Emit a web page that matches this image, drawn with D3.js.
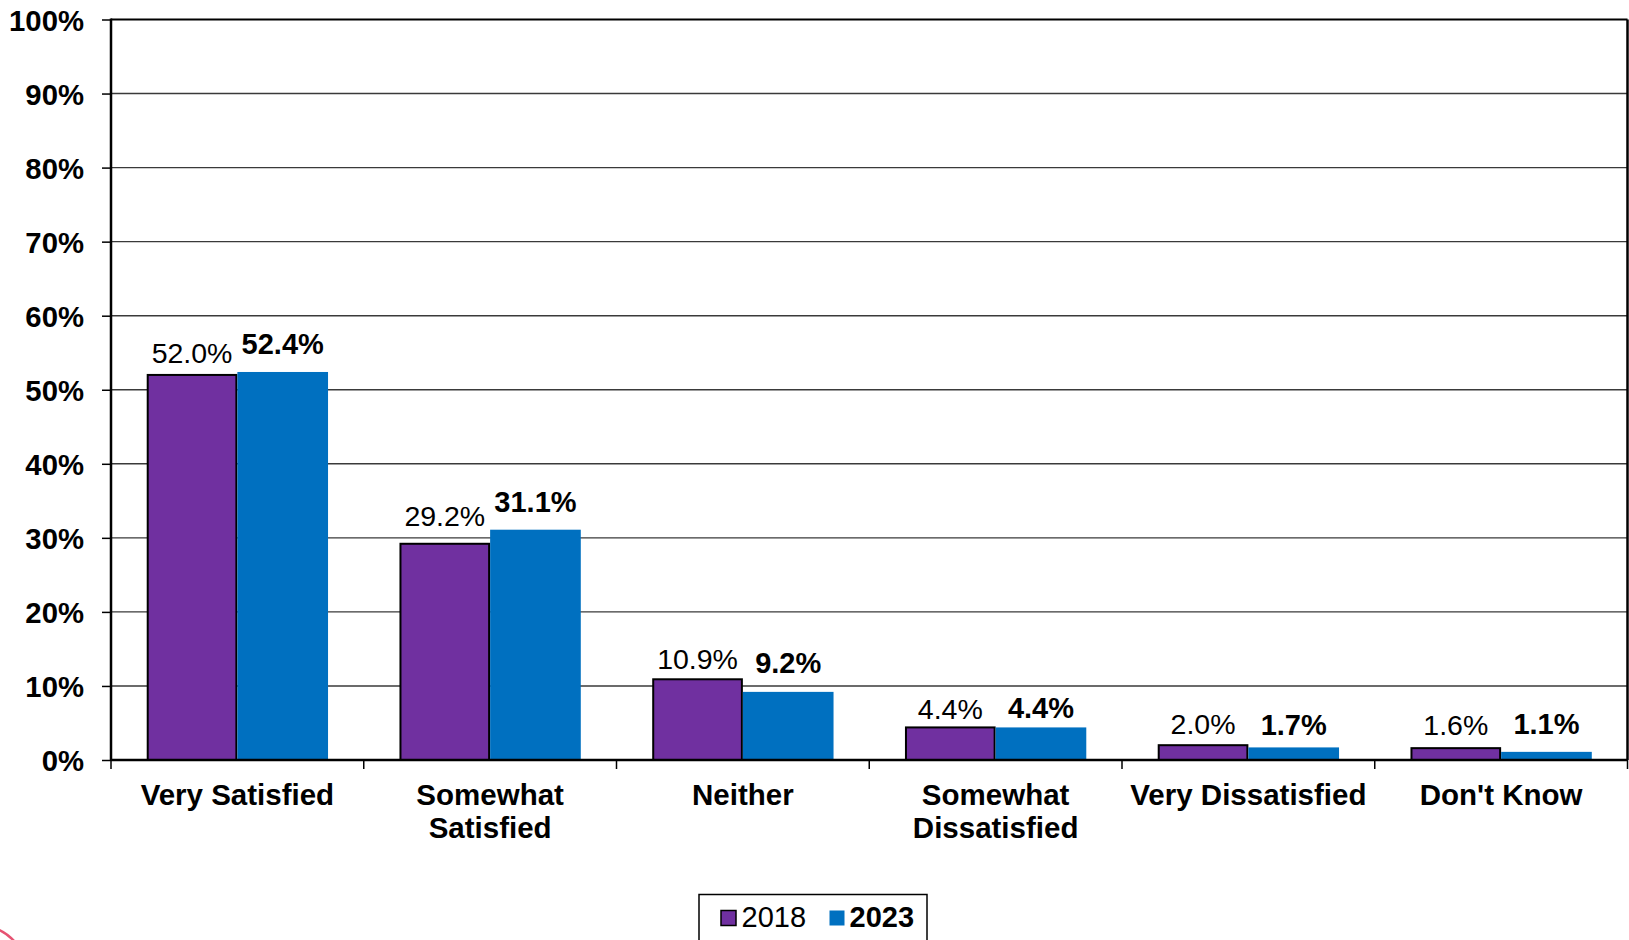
<!DOCTYPE html>
<html>
<head>
<meta charset="utf-8">
<script src="https://cdn.jsdelivr.net/npm/d3@7"></script>
<style>
  html, body { margin: 0; padding: 0; background: #fff; }
  svg { display: block; font-family: "Liberation Sans", Arial, sans-serif; }
</style>
</head>
<body>
<svg id="chart" width="1629" height="940"></svg>
<script>
const categories = ["Very Satisfied", "Somewhat Satisfied", "Neither", "Somewhat Dissatisfied", "Very Dissatisfied", "Don't Know"];
const categoryLines = [["Very Satisfied"], ["Somewhat", "Satisfied"], ["Neither"], ["Somewhat", "Dissatisfied"], ["Very Dissatisfied"], ["Don't Know"]];
const series = ["2018", "2023"];
const values2018 = [52.0, 29.2, 10.9, 4.4, 2.0, 1.6];
const values2023 = [52.4, 31.1, 9.2, 4.4, 1.7, 1.1];
const yTicks = [0, 10, 20, 30, 40, 50, 60, 70, 80, 90, 100];
const colors = { "2018": "#7030A0", "2023": "#0070C0" };
// gap (px) between bar top and its value label, as placed in the original
const labelGap2018 = [12, 17.5, 10.5, 8.5, 11, 13];
const labelGap2023 = [18, 17.5, 19, 9.5, 12.5, 18];

(function () {
const svg = d3.select("#chart");
const pLeft = 111, pRight = 1627.5, pTop = 19.5, pBottom = 760;

const y = d3.scaleLinear().domain([0, 100]).range([pBottom, pTop]);
const x0 = d3.scaleBand().domain(categories).range([pLeft, pRight]).padding(0);
const bw = x0.bandwidth();
const gp = bw * 0.1413;
const x1 = d3.scaleBand().domain(series).range([gp, bw - gp]).padding(0);

// gridlines
svg.append("g").selectAll("line").data(yTicks.filter(t => t > 0 && t < 100)).join("line")
  .attr("x1", pLeft).attr("x2", pRight)
  .attr("y1", d => y(d)).attr("y2", d => y(d))
  .attr("stroke", "#3a3a3a").attr("stroke-width", 1.4);

// y axis
const yAxis = d3.axisLeft(y).tickValues(yTicks).tickFormat(d => d + "%").tickSize(9).tickPadding(18);
const gy = svg.append("g").attr("transform", `translate(${pLeft},0)`).call(yAxis);
gy.select(".domain").remove();
gy.selectAll(".tick line").attr("stroke", "#000").attr("stroke-width", 1.5);
gy.selectAll(".tick text").attr("font-size", 29.3).attr("font-weight", "bold").attr("fill", "#000")
  .attr("font-family", "'Liberation Sans', Arial, sans-serif")
  .attr("dy", null).attr("y", 10.5);

// bars
const data = categories.map((c, i) => ({ cat: c, vals: [
  { s: "2018", v: values2018[i], gap: labelGap2018[i] },
  { s: "2023", v: values2023[i], gap: labelGap2023[i] }] }));
const groups = svg.append("g").selectAll("g").data(data).join("g")
  .attr("transform", d => `translate(${x0(d.cat)},0)`);

groups.selectAll("rect").data(d => d.vals).join("rect")
  .attr("x", d => x1(d.s) + (d.s === "2018" ? 1 : 0))
  .attr("width", d => x1.bandwidth() - (d.s === "2018" ? 2 : 0))
  .attr("y", d => y(d.v))
  .attr("height", d => pBottom - y(d.v))
  .attr("fill", d => colors[d.s])
  .attr("stroke", d => d.s === "2018" ? "#000" : "none")
  .attr("stroke-width", 2);

groups.selectAll("text.val").data(d => d.vals).join("text")
  .attr("class", "val")
  .attr("x", d => x1(d.s) + x1.bandwidth() / 2)
  .attr("y", d => y(d.v) - d.gap)
  .attr("text-anchor", "middle")
  .attr("font-size", d => d.s === "2023" ? 29 : 28.5)
  .attr("font-weight", d => d.s === "2023" ? "bold" : "normal")
  .attr("fill", "#000")
  .text(d => d.v.toFixed(1) + "%");

// frame
svg.append("line").attr("x1", pLeft).attr("x2", pRight).attr("y1", pTop).attr("y2", pTop).attr("stroke", "#000").attr("stroke-width", 2);
svg.append("line").attr("x1", pRight).attr("x2", pRight).attr("y1", pTop).attr("y2", pBottom).attr("stroke", "#000").attr("stroke-width", 2.5);
svg.append("line").attr("x1", pLeft).attr("x2", pLeft).attr("y1", pTop - 1).attr("y2", pBottom + 1).attr("stroke", "#000").attr("stroke-width", 2.5);
svg.append("line").attr("x1", pLeft).attr("x2", pRight).attr("y1", pBottom).attr("y2", pBottom).attr("stroke", "#000").attr("stroke-width", 2.5);

// x ticks at band boundaries
const bounds = categories.map(c => x0(c)).concat([pRight]);
svg.append("g").selectAll("line").data(bounds).join("line")
  .attr("x1", d => d).attr("x2", d => d)
  .attr("y1", pBottom).attr("y2", pBottom + 9)
  .attr("stroke", "#000").attr("stroke-width", 1.5);

// category labels
const cl = svg.append("g").selectAll("text").data(categories).join("text")
  .attr("x", d => x0(d) + bw / 2)
  .attr("y", 805)
  .attr("text-anchor", "middle")
  .attr("font-size", 29.5)
  .attr("font-weight", "bold")
  .attr("fill", "#000");
cl.each(function(d, i) {
  const t = d3.select(this);
  categoryLines[i].forEach((line, j) => {
    t.append("tspan").attr("x", x0(d) + bw / 2).attr("dy", j === 0 ? 0 : 32.5).text(line);
  });
});

// legend
const lg = svg.append("g");
lg.append("rect").attr("x", 699).attr("y", 894.5).attr("width", 228).attr("height", 70)
  .attr("fill", "#fff").attr("stroke", "#000").attr("stroke-width", 1.5);
const legendItems = [
  { s: "2018", sx: 721, tx: 741.5, bold: false },
  { s: "2023", sx: 829.5, tx: 849.5, bold: true }
];
legendItems.forEach(it => {
  lg.append("rect").attr("x", it.sx).attr("y", 910.5).attr("width", 15).attr("height", 15)
    .attr("fill", colors[it.s]).attr("stroke", it.s === "2018" ? "#000" : "none").attr("stroke-width", 1.5);
  lg.append("text").attr("x", it.tx).attr("y", 927).attr("font-size", 29)
    .attr("font-weight", it.bold ? "bold" : "normal").attr("fill", "#000").text(it.s);
});

// red fragment at bottom-left corner
svg.append("path").attr("d", "M-3,929 Q7,933 15,942").attr("fill", "none")
  .attr("stroke", "#e0284f").attr("stroke-width", 2.5).attr("opacity", 0.8);
})();
</script>
</body>
</html>
